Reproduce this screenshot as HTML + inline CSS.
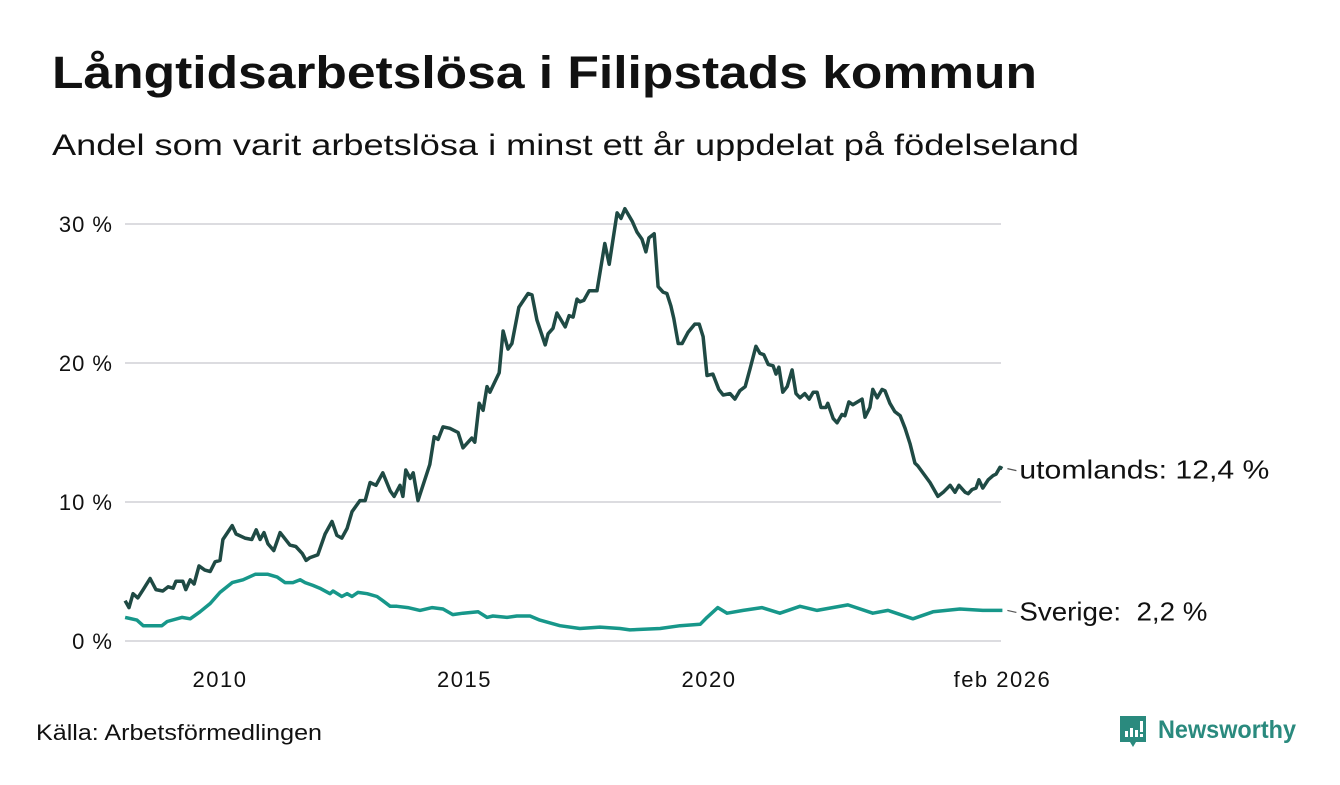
<!DOCTYPE html>
<html><head><meta charset="utf-8"><style>
html,body{margin:0;padding:0;background:#fff;}
body{width:1340px;height:780px;overflow:hidden;font-family:"Liberation Sans",sans-serif;}
</style></head><body>
<svg id="chart" width="1340" height="780" xmlns="http://www.w3.org/2000/svg" font-family="Liberation Sans, sans-serif">
<text x="52" y="88" font-size="45" font-weight="bold" fill="#111" textLength="985" lengthAdjust="spacingAndGlyphs">Långtidsarbetslösa i Filipstads kommun</text>
<text x="52" y="155" font-size="30" fill="#111" textLength="1027" lengthAdjust="spacingAndGlyphs">Andel som varit arbetslösa i minst ett år uppdelat på födelseland</text>
<g id="grid"></g>
<g id="xaxis"></g>
<g id="lines"></g>
<text x="36" y="740" font-size="22" fill="#111" textLength="286" lengthAdjust="spacingAndGlyphs">Källa: Arbetsförmedlingen</text>
<g>
<path d="M1120 716 h26 v26 h-10 l-3 5 l-3 -5 h-10 z" fill="#2a8a7e"/>
<rect x="1125" y="731" width="3" height="6" fill="#fff"/><rect x="1130" y="728" width="3" height="9" fill="#fff"/><rect x="1135" y="730" width="3" height="7" fill="#fff"/><rect x="1140" y="721" width="3" height="11" fill="#fff"/><rect x="1140" y="734" width="3" height="3" fill="#fff"/>
<text x="1158" y="738" font-size="25" font-weight="bold" fill="#2a8a7e" textLength="138" lengthAdjust="spacingAndGlyphs">Newsworthy</text>
</g>
</svg>
<script>
const utTimes=[2008.06,2008.14,2008.22,2008.32,2008.43,2008.57,2008.69,2008.83,2008.94,2009.04,2009.10,2009.24,2009.30,2009.39,2009.47,2009.57,2009.69,2009.80,2009.90,2010.00,2010.06,2010.25,2010.33,2010.51,2010.65,2010.74,2010.82,2010.90,2010.98,2011.10,2011.23,2011.43,2011.55,2011.68,2011.76,2011.84,2012.00,2012.15,2012.29,2012.39,2012.49,2012.60,2012.70,2012.86,2012.97,2013.07,2013.19,2013.33,2013.48,2013.56,2013.68,2013.74,2013.80,2013.89,2013.95,2014.05,2014.29,2014.38,2014.46,2014.56,2014.70,2014.87,2014.97,2015.15,2015.21,2015.30,2015.38,2015.46,2015.52,2015.71,2015.79,2015.89,2015.97,2016.11,2016.30,2016.38,2016.48,2016.65,2016.71,2016.81,2016.89,2017.06,2017.14,2017.22,2017.30,2017.36,2017.44,2017.55,2017.71,2017.87,2017.96,2018.12,2018.20,2018.28,2018.43,2018.53,2018.63,2018.71,2018.77,2018.88,2018.96,2019.06,2019.14,2019.22,2019.28,2019.37,2019.45,2019.57,2019.71,2019.80,2019.88,2019.96,2020.08,2020.20,2020.29,2020.43,2020.53,2020.63,2020.74,2020.84,2020.96,2021.04,2021.12,2021.21,2021.31,2021.37,2021.43,2021.51,2021.60,2021.70,2021.78,2021.86,2021.96,2022.05,2022.13,2022.21,2022.29,2022.39,2022.43,2022.54,2022.62,2022.72,2022.78,2022.86,2022.94,2023.13,2023.19,2023.29,2023.35,2023.44,2023.54,2023.60,2023.70,2023.80,2023.91,2024.01,2024.11,2024.21,2024.27,2024.52,2024.68,2024.79,2024.93,2025.03,2025.11,2025.24,2025.30,2025.38,2025.46,2025.52,2025.60,2025.71,2025.81,2025.87,2025.95,2026.00];
const utValues=[2.9,2.4,3.4,3.1,3.7,4.5,3.7,3.6,3.9,3.8,4.3,4.3,3.7,4.4,4.1,5.4,5.1,5.0,5.7,5.8,7.3,8.3,7.7,7.4,7.3,8.0,7.3,7.8,7.0,6.5,7.8,6.9,6.8,6.3,5.8,6.0,6.2,7.7,8.6,7.6,7.4,8.1,9.3,10.1,10.1,11.4,11.2,12.1,10.8,10.4,11.2,10.4,12.3,11.7,12.1,10.1,12.7,14.7,14.5,15.4,15.3,15.0,13.9,14.6,14.3,17.1,16.6,18.3,17.9,19.3,22.3,21.0,21.4,24.0,25.0,24.9,23.1,21.3,22.1,22.5,23.6,22.6,23.4,23.3,24.6,24.4,24.5,25.2,25.2,28.6,27.1,30.8,30.4,31.1,30.2,29.4,28.9,28.0,29.0,29.3,25.5,25.1,25.0,24.1,23.2,21.4,21.4,22.2,22.8,22.8,21.9,19.1,19.2,18.1,17.7,17.8,17.4,18.0,18.3,19.6,21.2,20.7,20.6,19.9,19.8,19.2,19.7,17.9,18.3,19.5,17.8,17.5,17.8,17.4,17.9,17.9,16.8,16.8,17.1,16.0,15.7,16.3,16.2,17.2,17.0,17.4,16.1,16.8,18.1,17.5,18.1,18.0,17.1,16.5,16.2,15.3,14.2,12.8,12.6,11.4,10.4,10.7,11.2,10.7,11.2,10.7,10.6,10.9,11.0,11.6,11.0,11.6,11.9,12.0,12.5,12.4];
const seTimes=[2008.06,2008.30,2008.43,2008.81,2008.92,2009.22,2009.39,2009.59,2009.80,2010.00,2010.25,2010.47,2010.72,2010.98,2011.17,2011.33,2011.49,2011.64,2011.74,2011.90,2012.04,2012.25,2012.31,2012.49,2012.60,2012.70,2012.82,2013.01,2013.21,2013.33,2013.48,2013.62,2013.84,2014.09,2014.34,2014.56,2014.76,2014.97,2015.28,2015.46,2015.58,2015.87,2016.07,2016.34,2016.54,2016.95,2017.36,2017.77,2018.18,2018.38,2019.00,2019.41,2019.82,2019.96,2020.18,2020.37,2020.70,2021.08,2021.45,2021.86,2022.21,2022.84,2023.35,2023.66,2024.17,2024.58,2025.13,2025.60,2026.00];
const seValues=[1.7,1.5,1.1,1.1,1.4,1.7,1.6,2.1,2.7,3.5,4.2,4.4,4.8,4.8,4.6,4.2,4.2,4.4,4.2,4.0,3.8,3.4,3.6,3.2,3.4,3.2,3.5,3.4,3.2,2.9,2.5,2.5,2.4,2.2,2.4,2.3,1.9,2.0,2.1,1.7,1.8,1.7,1.8,1.8,1.5,1.1,0.9,1.0,0.9,0.8,0.9,1.1,1.2,1.7,2.4,2.0,2.2,2.4,2.0,2.5,2.2,2.6,2.0,2.2,1.6,2.1,2.3,2.2,2.2];
const yTicks=[0,10,20,30];
const yTickLabels=["0 %","10 %","20 %","30 %"];
const xTicks=[2010,2015,2020,2026.0];
const xTickLabels=["2010","2015","2020","feb 2026"];
const seriesNames=["utomlands","Sverige"];
const lastLabels=["utomlands: 12,4 %","Sverige:  2,2 %"];

const NS="http://www.w3.org/2000/svg";
const x=t=>220+(t-2010)*48.9;
const y=v=>641-v*13.9;
function mk(tag,attrs,parent){const e=document.createElementNS(NS,tag);for(const k in attrs)e.setAttribute(k,attrs[k]);parent.appendChild(e);return e;}
const grid=document.getElementById('grid'),xa=document.getElementById('xaxis'),lines=document.getElementById('lines');
yTicks.forEach((v,i)=>{
  const l=mk('line',{x1:125,x2:1001,y1:y(v),y2:y(v),stroke:'#dcdce0','stroke-width':2},grid);
  
  
  const t=mk('text',{x:113,y:y(v)+8,'text-anchor':'end','font-size':22,fill:'#111','letter-spacing':'1'},grid);
  
  
  t.textContent=yTickLabels[i];
});
xTicks.forEach((v,i)=>{
  const t=mk('text',{x:x(v),y:687,'text-anchor':'middle','font-size':22,fill:'#111','letter-spacing':'1.5'},xa);
  
  
  t.textContent=xTickLabels[i];
});
[[utTimes,utValues,'#1f4a44',250],[seTimes,seValues,'#17978a',188]].forEach((s,k)=>{
  const d=s[0].map((t,i)=>(i?'L':'M')+x(t).toFixed(1)+' '+y(s[1][i]).toFixed(1)).join(' ');
  const p=mk('path',{d:d,fill:'none',stroke:s[2],'stroke-width':3.5,'stroke-linejoin':'round'},lines);
  
  
  const lx=x(s[0][s[0].length-1]),ly=y(s[1][s[1].length-1]);
  const dl=mk('line',{x1:lx+5,x2:lx+14,y1:ly,y2:ly+2,stroke:'#555','stroke-width':1.2},lines);
  
  
  const t=mk('text',{x:lx+17,y:ly+10,'font-size':26,fill:'#111','xml:space':'preserve',textLength:s[3],lengthAdjust:'spacingAndGlyphs'},lines);
  
  
  t.style.whiteSpace='pre';
  t.textContent=lastLabels[k];
});
</script>
</body></html>
